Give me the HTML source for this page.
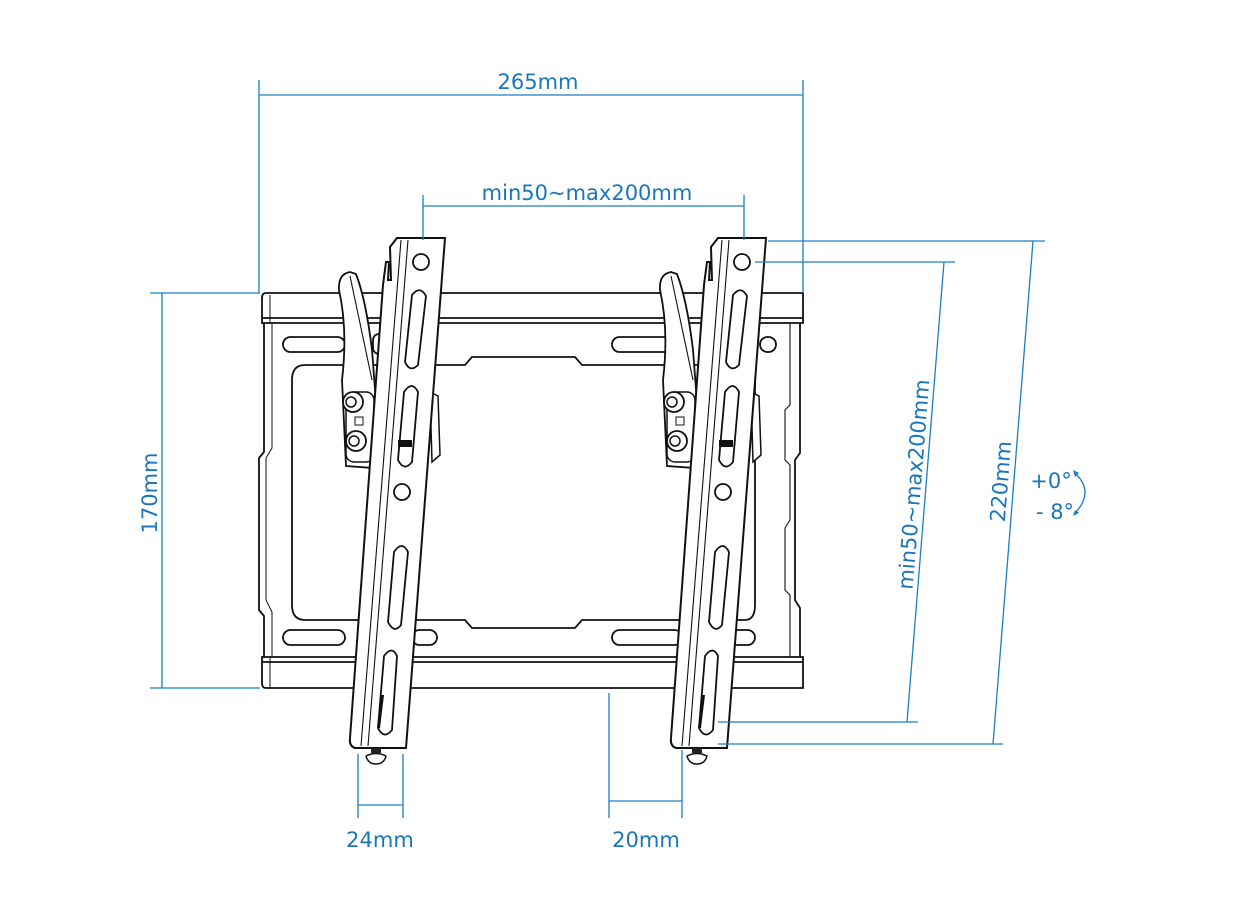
<!DOCTYPE html>
<html><head><meta charset="utf-8"><style>
html,body{margin:0;padding:0;background:#fff;}
svg{display:block}
text{font-family:"DejaVu Sans","Liberation Sans",sans-serif;fill:#1a75bb;}
</style></head><body>
<svg width="1233" height="924" viewBox="0 0 1233 924" xmlns="http://www.w3.org/2000/svg">
<defs>
<g id="br">
  <path d="M339,290 Q338,274 350,272 L356,274 Q366,300 372,350 L380,455 L374,468 L346,466 L342,380 Q348,330 339,290 Z" fill="#fff" stroke="#111" stroke-width="1.8"/>
  <line x1="350" y1="276" x2="372" y2="380" stroke="#111" stroke-width="1.1"/>
  <path d="M430,392 L438,396 L440,455 L432,462 Z" fill="#fff" stroke="#111" stroke-width="1.5"/>
  <rect x="346" y="392" width="28" height="70" rx="8" fill="#fff" stroke="#111" stroke-width="1.5"/>
  <circle cx="353" cy="402" r="10" fill="#fff" stroke="#111" stroke-width="1.8"/>
  <circle cx="351" cy="402" r="5" fill="#fff" stroke="#111" stroke-width="1.5"/>
  <circle cx="356" cy="441" r="10" fill="#fff" stroke="#111" stroke-width="1.8"/>
  <circle cx="354" cy="441" r="5" fill="#fff" stroke="#111" stroke-width="1.5"/>
  <rect x="355" y="417" width="8" height="8" fill="#fff" stroke="#111" stroke-width="1"/>
  <path d="M390,247 L397,238 L445,238 L406,748 L355,748 Q349,746 350,738 L383,285 L386,262 L389,262 L388,280 L391,280 Z" fill="#fff" stroke="#111" stroke-width="2"/>
  <line x1="401" y1="240" x2="361" y2="746" stroke="#111" stroke-width="1.1"/>
  <line x1="408" y1="240" x2="368" y2="746" stroke="#111" stroke-width="1.1"/>
  <circle cx="421" cy="262" r="8" fill="#fff" stroke="#111" stroke-width="1.8"/>
  <path d="M412,295 Q420,285 426,296 L418,365 Q410,373 405,362 Z" fill="#fff" stroke="#111" stroke-width="1.8"/>
  <path d="M404,392 Q412,380 418,392 L412,462 Q404,472 398,460 Z" fill="#fff" stroke="#111" stroke-width="1.8"/>
  <rect x="398" y="440" width="14" height="7" fill="#111"/>
  <circle cx="402" cy="492" r="8" fill="#fff" stroke="#111" stroke-width="1.8"/>
  <path d="M394,552 Q402,540 408,552 L401,625 Q394,634 388,622 L394,552 Z" fill="#fff" stroke="#111" stroke-width="1.8"/>
  <path d="M384,656 Q392,645 397,656 L392,730 Q384,740 378,728 Z" fill="#fff" stroke="#111" stroke-width="1.8"/>
  <path d="M381,695 L384,695 L380,728 L377,728 Z" fill="#111"/>
  <rect x="371" y="748" width="10" height="5" fill="#222"/>
  <path d="M366,756 Q376,751 386,756 Q384,764 376,764 Q368,764 366,756 Z" fill="#fff" stroke="#111" stroke-width="1.5"/>
</g>
</defs>

<g fill="none" stroke="#111" stroke-width="1.8">
  <path d="M266,293 L803,293 L803,323 L262,323 L262,298 Q262,293 266,293 Z" fill="#fff"/>
  <line x1="262" y1="318" x2="803" y2="318"/>
  <line x1="270" y1="295" x2="270" y2="323" stroke-width="1"/>
  <path d="M262,657 L803,657 L803,688 L266,688 Q262,688 262,683 Z" fill="#fff"/>
  <line x1="262" y1="662" x2="803" y2="662"/>
  <line x1="270" y1="657" x2="270" y2="688" stroke-width="1"/>
  <path d="M264,323 L264,452 L259,458 L259,610 L264,616 L264,657"/>
  <path d="M272,323 L272,448 L266,458 L266,600 L272,612 L272,657" stroke-width="1"/>
  <path d="M800,323 L800,453 L795,460 L795,600 L800,608 L800,657"/>
  <path d="M790,323 L790,405 L785,410 L785,460 L790,465 L790,520 L785,528 L785,590 L790,595 L790,657" stroke-width="1.1"/>
  <path d="M305,365 L465,365 L472,357 L575,357 L582,365 L745,365 Q755,365 755,375 L755,605 Q755,620 745,620 L582,620 L575,628 L472,628 L465,620 L305,620 Q292,620 292,605 L292,380 Q292,365 305,365 Z"/>
  <rect x="283" y="337" width="62" height="15" rx="7.5"/>
  <rect x="612" y="337" width="70" height="15" rx="7.5"/>
  <rect x="760" y="337" width="16" height="15" rx="7.5"/>
  <rect x="373" y="334" width="12" height="20" rx="6"/>
  <rect x="283" y="630" width="62" height="15" rx="7.5"/>
  <rect x="612" y="630" width="70" height="15" rx="7.5"/>
  <rect x="412" y="630" width="25" height="15" rx="7.5"/>
  <rect x="730" y="630" width="25" height="15" rx="7.5"/>
</g>

<use href="#br"/>
<use href="#br" transform="translate(321,0)"/>

<g stroke="#1a7fc4" stroke-width="1.3" fill="none">
  <line x1="259" y1="80" x2="259" y2="293"/>
  <line x1="803" y1="80" x2="803" y2="293"/>
  <line x1="259" y1="95" x2="803" y2="95"/>
  <line x1="423" y1="195" x2="423" y2="240"/>
  <line x1="744" y1="195" x2="744" y2="240"/>
  <line x1="423" y1="206" x2="744" y2="206"/>
  <line x1="150" y1="293" x2="260" y2="293"/>
  <line x1="150" y1="688" x2="260" y2="688"/>
  <line x1="162" y1="293" x2="162" y2="688"/>
  <line x1="768" y1="241" x2="1045" y2="241"/>
  <line x1="755" y1="262" x2="955" y2="262"/>
  <line x1="718" y1="722" x2="918" y2="722"/>
  <line x1="718" y1="744" x2="1003" y2="744"/>
  <line x1="944" y1="262" x2="907" y2="722"/>
  <line x1="1033" y1="241" x2="993" y2="744"/>
  <line x1="358" y1="754" x2="358" y2="818"/>
  <line x1="403" y1="754" x2="403" y2="818"/>
  <line x1="358" y1="805" x2="403" y2="805"/>
  <line x1="609" y1="693" x2="609" y2="818"/>
  <line x1="682" y1="750" x2="682" y2="818"/>
  <line x1="609" y1="801" x2="682" y2="801"/>
  <path d="M1076,474 Q1094,492 1076,512"/>
</g>
<path d="M1073,470 L1079,473 L1075,477 Z M1073,516 L1079,513 L1075,510 Z" fill="#1a7fc4"/>

<g font-size="21">
  <text x="538" y="89" text-anchor="middle">265mm</text>
  <text x="587" y="200" text-anchor="middle">min50~max200mm</text>
  <text x="380" y="847" text-anchor="middle">24mm</text>
  <text x="646" y="847" text-anchor="middle">20mm</text>
  <text transform="translate(157,493) rotate(-90)" text-anchor="middle">170mm</text>
  <text transform="translate(921,485) rotate(-85.4)" text-anchor="middle">min50~max200mm</text>
  <text transform="translate(1008,482) rotate(-85.4)" text-anchor="middle">220mm</text>
  <text x="1051" y="488" text-anchor="middle">+0°</text>
  <text x="1055" y="519" text-anchor="middle">- 8°</text>
</g>
</svg>
</body></html>
